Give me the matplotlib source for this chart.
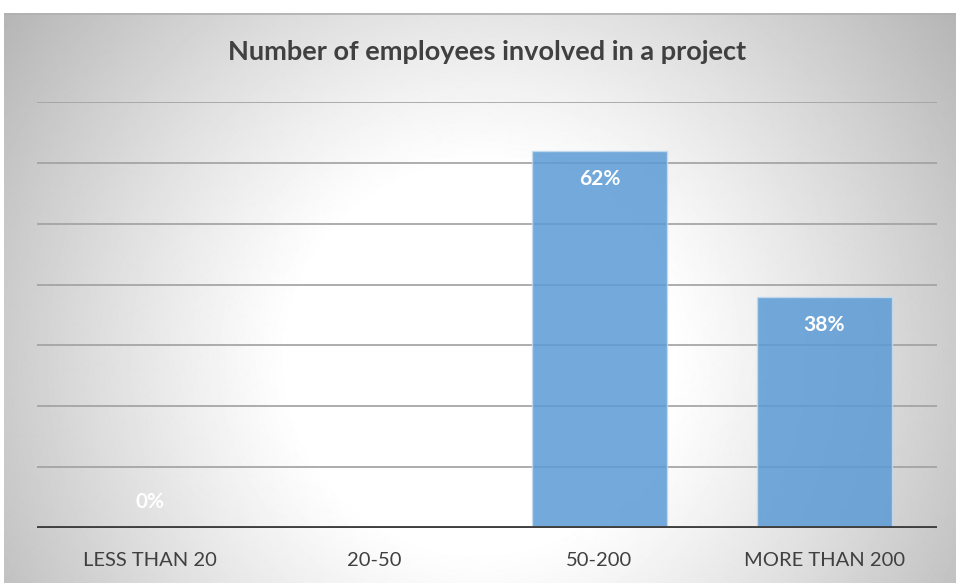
import numpy as np
import matplotlib
matplotlib.use("Agg")
import matplotlib.pyplot as plt

# data
categories = ["LESS THAN 20", "20-50", "50-200", "MORE THAN 200"]
values = [0, 0, 62, 38]
labels = ["0%", "0%", "62%", "38%"]

W, H = 956, 584
fig = plt.figure(figsize=(W / 100, H / 100), dpi=100)
fig.patch.set_facecolor("white")

# chart frame with radial grey gradient
fx0, fy0 = 4, 13
bg = fig.add_axes([fx0 / W, 0, (W - fx0) / W, (H - fy0) / H])
bg.set_axis_off()
xx, yy = np.meshgrid(np.arange(fx0, W), np.arange(fy0, H))
d = np.hypot(xx - 480, yy - 360)
v = 1 - 0.30 * np.clip((d - 190) / 410, 0, 1) ** 1.1
bg.imshow(v, cmap="gray", vmin=0, vmax=1, aspect="auto", interpolation="bilinear")
bg.plot([0, W - fx0], [0.5, 0.5], color="#b0b0b0", lw=1.2)
bg.set_xlim(0, W - fx0)
bg.set_ylim(H - fy0, 0)

# plot area
ax = fig.add_axes([37 / W, (H - 528) / H, 900 / W, (528 - 102) / H])
ax.patch.set_alpha(0)
x = np.arange(len(categories))
bars = ax.bar(x, values, width=0.6, color="#5B9BD5", alpha=0.85,
              edgecolor="#c5dbef", linewidth=1, zorder=3)
ax.set_ylim(0, 70)
ax.set_xlim(-0.5, len(categories) - 0.5)
for yv in range(10, 71, 10):
    ax.axhline(yv, color="#a0a0a0", lw=1.2, zorder=1)
ax.axhline(0, color="#404040", lw=2.8, zorder=4)
for s in ax.spines.values():
    s.set_visible(False)
ax.set_yticks([])
ax.set_xticks(x)
ax.set_xticklabels(categories, fontsize=14.5, color="#404040", family="Lato")
ax.tick_params(axis="x", length=0, pad=17)

for xi, val, lab in zip(x, values, labels):
    ax.annotate(lab, (xi, val), xytext=(0, -28 if val > 0 else 26),
                textcoords="offset pixels",
                ha="center", va="center", color="white", fontsize=15,
                fontweight="bold", family="Lato", zorder=5)

fig.text(487 / W, 1 - 52 / H, "Number of employees involved in a project",
         ha="center", va="center", fontsize=19.5, fontweight="bold",
         color="#404040", family="Lato")

fig.savefig("out.png", dpi=100)
